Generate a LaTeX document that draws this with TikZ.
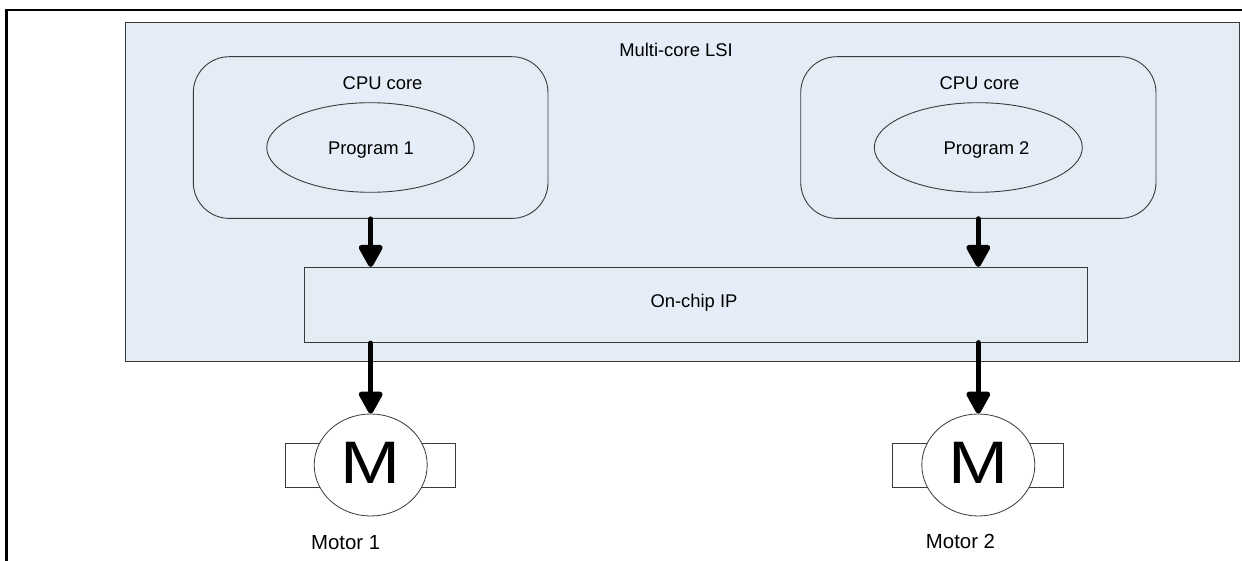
\documentclass[tikz,border=0pt]{standalone}
\usepackage{fontspec}
\setmainfont{Liberation Sans}
\usetikzlibrary{arrows.meta,shapes.geometric}
\definecolor{chipblue}{HTML}{E4ECF6}
\definecolor{patchblue}{HTML}{E5EEF8}
\definecolor{edgegray}{HTML}{3A3A3A}
\tikzset{
  x=1pt,y=-1pt,
  chip/.style={draw=edgegray,line width=0.9pt,fill=chipblue},
  core/.style={draw=edgegray,line width=0.9pt,rounded corners=36pt},
  prog/.style={draw=edgegray,line width=0.9pt,ellipse,inner sep=0pt},
  label/.style={font=\fontsize{18.4}{20}\selectfont,inner sep=0pt,text=black},
  patch/.style={fill=patchblue},
  motorname/.style={font=\fontsize{20.4}{22}\selectfont,inner sep=0pt,text=black},
  motorbody/.style={draw=edgegray,line width=0.8pt,ellipse,fill=white,inner sep=0pt,minimum width=113pt,minimum height=102pt,font=\fontsize{60}{61}\selectfont},
  wing/.style={draw=edgegray,line width=0.8pt,fill=white},
  bus/.style={line width=5.2pt,line cap=round,-{Triangle[length=25pt,width=26pt,round=false]}},
}
\begin{document}
\begin{tikzpicture}
\useasboundingbox (0,0) rectangle (1242,561);
\fill[white] (0,0) rectangle (1242,561);
% outer frame
\coordinate (fa) at (6.5,561);
\coordinate (fb) at (6.5,10);
\coordinate (fc) at (1242,10);
\draw[line width=2.2pt,miter limit=10] (fa) -- (fb) -- (fc);
% LSI
\path[chip] (125.5,22.5) rectangle (1239,361.5);
\fill[patch] (598,27) rectangle (763,70);
\node[label] (lsi) at (676,50) {Multi-core LSI};
% CPU 1
\fill[patch] (308,63) rectangle (458.5,99);
\fill[patch] (296,127) rectangle (447,171);
\path[core] (193.3,56.7) rectangle (548,218.4);
\node[label] (cpu1) at (382.6,83.5) {CPU core};
\node[prog,minimum width=207.5pt,minimum height=89.6pt] (p1) at (370.5,147.5) {};
\node[label] (p1t) at (371,150) {Program 1};
% CPU 2
\fill[patch] (905,62) rectangle (1055,98);
\fill[patch] (912,127) rectangle (1062,170);
\path[core] (800.7,56.7) rectangle (1156,218.4);
\node[label] (cpu2) at (979.5,83.5) {CPU core};
\node[prog,minimum width=208pt,minimum height=89.6pt] (p2) at (978.3,147.5) {};
\node[label] (p2t) at (986.5,149.5) {Program 2};
% IP
\path[chip] (304.3,267) rectangle (1087.7,342.7);
\fill[patch] (588,282) rectangle (797,328);
\node[label] (ip) at (694,303) {On-chip IP};
\coordinate (c1b) at (370.7,219);
\coordinate (c2b) at (978.3,218.8);
\coordinate (i1t) at (370.7,266.9);
\coordinate (i2t) at (978.3,266.9);
\coordinate (i1b) at (370.7,343.2);
\coordinate (i2b) at (978.3,342.7);
% motors
\draw[wing] (285.4,443.3) rectangle (455.7,487.3);
\node[motorbody] (m1) at (370.7,465) {\raisebox{5pt}{\scalebox{1.2}[1]{M}}};
\draw[wing] (892,443.3) rectangle (1063,487.3);
\node[motorbody] (m2) at (978.3,465) {\raisebox{5pt}{\scalebox{1.2}[1]{M}}};
\node[motorname] (m1t) at (345.6,543) {Motor 1};
\node[motorname] (m2t) at (960.5,541.5) {Motor 2};
% arrows
\draw[bus] (c1b) -- (i1t);
\draw[bus] (c2b) -- (i2t);
\draw[bus] (i1b) -- (m1.north);
\draw[bus] (i2b) -- (m2.north);
\end{tikzpicture}
\end{document}
